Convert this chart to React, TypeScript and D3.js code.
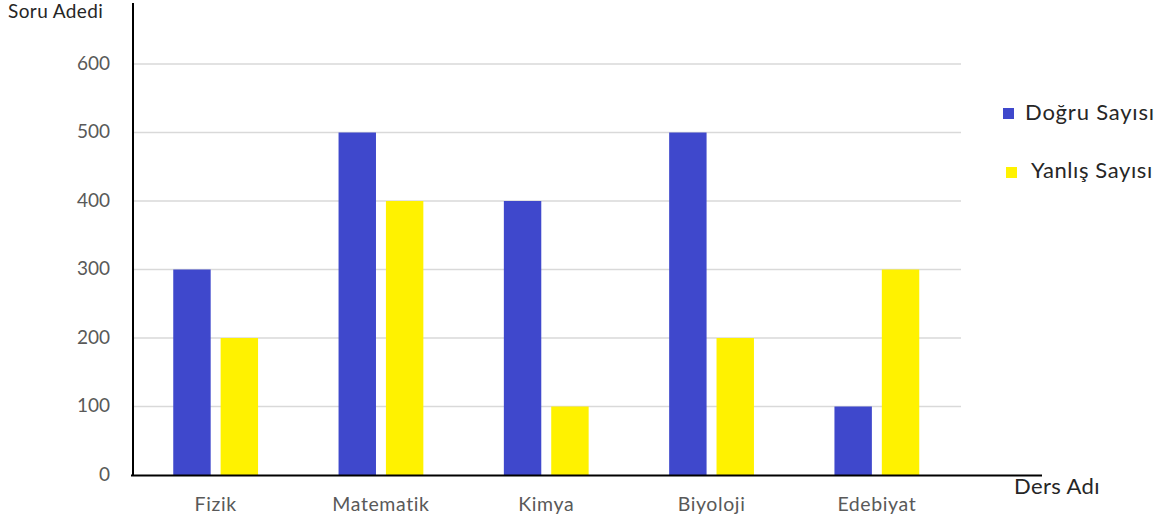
import React from "react";
import * as d3 from "d3";

const categories = ["Fizik", "Matematik", "Kimya", "Biyoloji", "Edebiyat"];
const seriesNames = ["Doğru Sayısı", "Yanlış Sayısı"];
const dogruValues = [300, 500, 400, 500, 100];
const yanlisValues = [200, 400, 100, 200, 300];
const yTicks = [0, 100, 200, 300, 400, 500, 600];
const colors = ["#3F48CC", "#FFF200"];

const W = 1172;
const H = 522;
const FONT = "Lato, 'Open Sans', sans-serif";

export default function App() {
  const x0 = d3.scaleBand<string>().domain(categories).range([133, 959.5]).paddingInner(0.487).paddingOuter(0.2435);
  const x1 = d3.scaleBand<string>().domain(seriesNames).range([0, x0.bandwidth()]).paddingInner(0.21).paddingOuter(0);
  const y = d3.scaleLinear().domain([0, 600]).range([475, 64]);
  const seriesValues = [dogruValues, yanlisValues];

  return (
    <svg width={W} height={H} style={{ position: "absolute", left: 0, top: 0, background: "#fff" }} fontFamily={FONT}>
      {yTicks.slice(1).map((t) => (
        <line key={"g" + t} x1={133} x2={961} y1={y(t)} y2={y(t)} stroke="#d9d9d9" strokeWidth={1.5} />
      ))}
      {yTicks.map((t) => (
        <text key={"t" + t} x={110} y={y(t)} dy="0.3em" textAnchor="end" fontSize={19} fill="#595959">
          {t}
        </text>
      ))}
      {categories.map((c, i) => (
        <g key={c} transform={`translate(${x0(c)},0)`}>
          {seriesNames.map((s, j) => (
            <rect
              key={s}
              x={x1(s)}
              y={y(seriesValues[j][i])}
              width={x1.bandwidth()}
              height={y(0) - y(seriesValues[j][i])}
              fill={colors[j]}
            />
          ))}
        </g>
      ))}
      {categories.map((c) => (
        <text key={"l" + c} x={(x0(c) as number) + x0.bandwidth() / 2} y={510.5} textAnchor="middle" fontSize={19.5} letterSpacing={0.6} fill="#595959">
          {c}
        </text>
      ))}
      <line x1={133} x2={133} y1={3} y2={476} stroke="#000" strokeWidth={2} />
      <line x1={131} x2={1042} y1={475.5} y2={475.5} stroke="#000" strokeWidth={2} />
      <text x={8} y={18} fontSize={19} letterSpacing={0.4} fill="#262626">Soru Adedi</text>
      <text x={1014} y={493.5} fontSize={22} letterSpacing={0.4} fill="#262626">Ders Adı</text>
      <rect x={1003} y={108} width={11} height={11} fill={colors[0]} />
      <text x={1025} y={120} fontSize={22} letterSpacing={0.8} fill="#262626">{seriesNames[0]}</text>
      <rect x={1006} y={167} width={11} height={11} fill={colors[1]} />
      <text x={1031} y={178} fontSize={22} letterSpacing={0.6} fill="#262626">{seriesNames[1]}</text>
    </svg>
  );
}
